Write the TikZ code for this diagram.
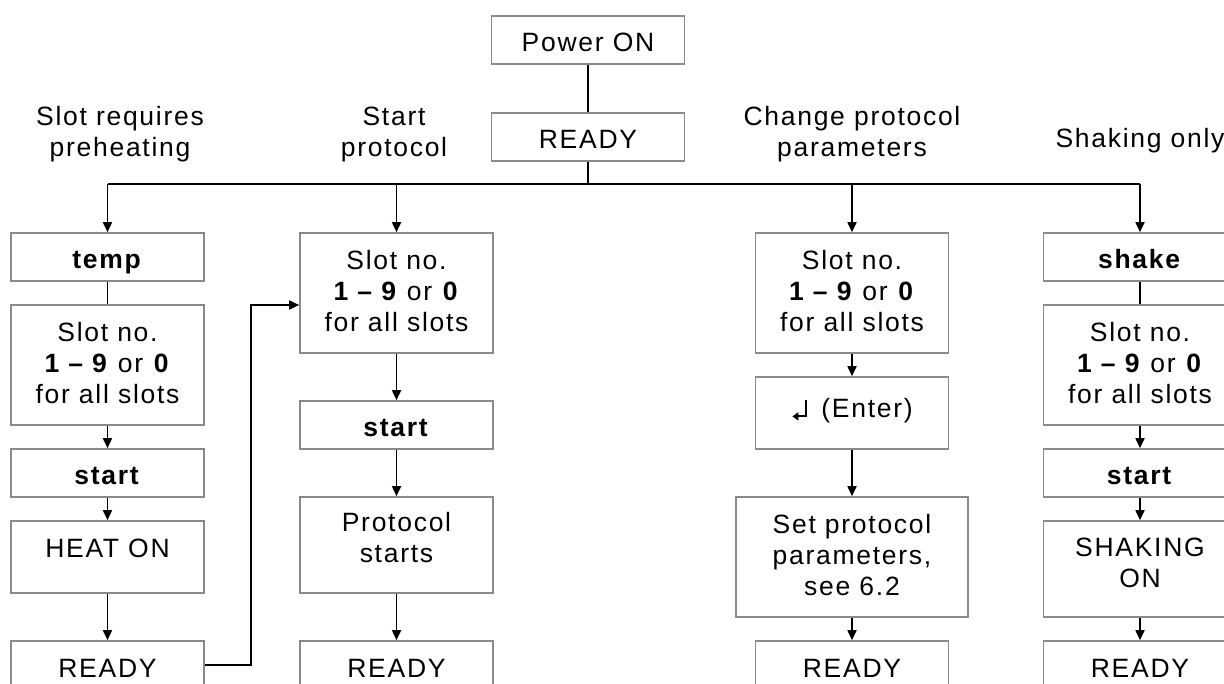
\documentclass[tikz,border=0pt]{standalone}
\usepackage{fontspec}
\setmainfont{Liberation Sans}[LetterSpace=6.5]
\usetikzlibrary{arrows.meta}
\definecolor{frame}{RGB}{138,138,138}
% struts: fixed first-line height and last-line depth
\newcommand{\hstrut}[1]{\rule{0pt}{#1pt}}
\newcommand{\dstrut}[1]{\rule[-#1pt]{0pt}{#1pt}}
% the Enter key symbol
\newcommand{\enterkey}{\tikz[baseline=0pt,x=1pt,y=1pt]
  \draw[line width=2.2pt,-{Triangle[length=6pt,width=8pt]}] (14,17) -- (14,1.1) -- (0,1.1);}

\begin{document}
\begin{tikzpicture}[x=1pt,y=-1pt,
  every node/.style={font=\fontsize{26.5}{31}\selectfont, inner sep=0pt},
  box/.style={draw=frame, line width=1.6pt, minimum width=193pt,
    minimum height=48pt, align=center},
  single/.style={text height=24pt, text depth=#1},
  single/.default=0pt,
  lbl/.style={align=center},
  conn/.style={draw=black, line width=1.7pt},
  arr/.style={conn, -{Triangle[length=10pt,width=9pt]}}
]
\useasboundingbox (0,0) rectangle (1224,684);
\clip (0,0) rectangle (1224,684);

% top of the flow
\node[box, single] (pwr) at (588,40) {Power ON};
\node[box, single] (rdy) at (588,137) {READY};
\coordinate (bus) at (588,184);

% branch labels
\node[lbl, anchor=north] (l1) at (120,101) {\hstrut{24}Slot requires\\preheating};
\node[lbl, anchor=north] (l2) at (394,101) {\hstrut{24}Start\\protocol};
\node[lbl, anchor=north] (l3) at (852,101) {\hstrut{24}Change protocol\\parameters};
\node[lbl, anchor=base] (l4) at (1140,148) {Shaking only};

% column 1: preheating
\node[box, single] (temp) at (107.5,257) {\textbf{temp}};
\node[box, minimum height=120pt] (slot1) at (107.5,365)
  {\hstrut{24}Slot no.\\\textbf{1 – 9} or \textbf{0}\\for all slots\dstrut{9}};
\node[box, single] (start1) at (107.5,473) {\textbf{start}};
\node[box, single=24pt, minimum height=72pt] (heat) at (107.5,557) {HEAT ON};
\node[box, single] (ready1) at (107.5,665) {READY};

% column 2: start protocol
\node[box, minimum height=120pt] (slot2) at (396.5,293)
  {\hstrut{24}Slot no.\\\textbf{1 – 9} or \textbf{0}\\for all slots\dstrut{9}};
\node[box, single] (start2) at (396.5,425) {\textbf{start}};
\node[box, minimum height=96pt] (proto) at (396.5,545)
  {\hstrut{24}Protocol\\starts\dstrut{21}};
\node[box, single] (ready2) at (396.5,665) {READY};

% column 3: change protocol parameters
\node[box, minimum height=120pt] (slot3) at (852,293)
  {\hstrut{24}Slot no.\\\textbf{1 – 9} or \textbf{0}\\for all slots\dstrut{9}};
\node[box, single=15pt, minimum height=72pt] (enter) at (852,413)
  {\enterkey\hspace{14pt}(Enter)};
\node[box, minimum width=232pt, minimum height=120pt] (setp) at (852,557)
  {\hstrut{24}Set protocol\\parameters,\\see 6.2\dstrut{9}};
\node[box, single] (ready3) at (852,665) {READY};

% column 4: shaking only
\node[box, single] (shake) at (1140,257) {\textbf{shake}};
\node[box, minimum height=120pt] (slot4) at (1140,365)
  {\hstrut{24}Slot no.\\\textbf{1 – 9} or \textbf{0}\\for all slots\dstrut{9}};
\node[box, single] (start4) at (1140,473) {\textbf{start}};
\node[box, minimum height=96pt] (shaking) at (1140,569)
  {\hstrut{24}SHAKING\\ON\dstrut{18}};
\node[box, single] (ready4) at (1140,665) {READY};

% connectors
\draw[conn] (pwr) -- (rdy);
\draw[conn] (rdy) -- (bus);
\draw[conn] (temp.north |- bus) -- (shake.north |- bus);
\draw[arr] (temp.north |- bus) -- (temp);
\draw[arr] (slot2.north |- bus) -- (slot2);
\draw[arr] (slot3.north |- bus) -- (slot3);
\draw[arr] (shake.north |- bus) -- (shake);

\draw[conn] (temp) -- (slot1);
\draw[arr] (slot1) -- (start1);
\draw[arr] (start1) -- (heat);
\draw[arr] (heat) -- (ready1);
\coordinate (elb) at (251,305);
\draw[arr] (ready1.east) -| (elb) -- (elb -| slot2.west);

\draw[arr] (slot2) -- (start2);
\draw[arr] (start2) -- (proto);
\draw[arr] (proto) -- (ready2);

\draw[arr] (slot3) -- (enter);
\draw[arr] (enter) -- (setp);
\draw[arr] (setp) -- (ready3);

\draw[conn] (shake) -- (slot4);
\draw[arr] (slot4) -- (start4);
\draw[arr] (start4) -- (shaking);
\draw[arr] (shaking) -- (ready4);
\end{tikzpicture}
\end{document}
